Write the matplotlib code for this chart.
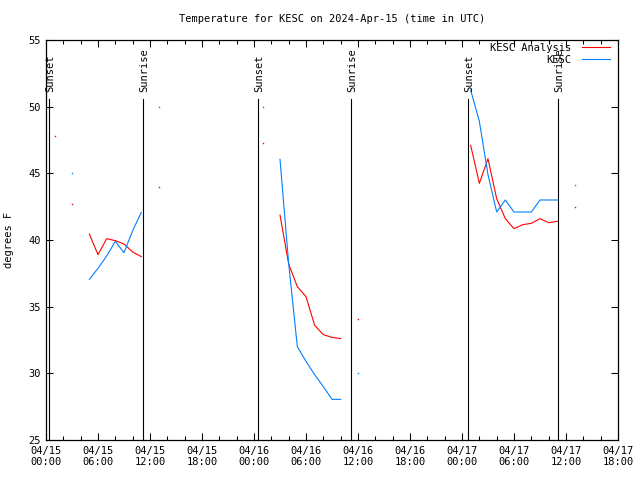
import numpy as np
import matplotlib
matplotlib.use("Agg")
import matplotlib.pyplot as plt

# hours since 2024-04-15 00:00 UTC
analysis_hours = [1, 3, 5, 6, 7, 8, 9, 10, 11, 13, 25,
                  27, 28, 29, 30, 31, 32, 33, 34, 36,
                  49, 50, 51, 52, 53, 54, 55, 56, 57, 58, 59, 61]
analysis_temp = [47.8, 42.7, 40.45, 38.9, 40.1, 39.95, 39.7, 39.1, 38.75, 43.95, 47.3,
                 41.87, 38.2, 36.5, 35.75, 33.6, 32.9, 32.7, 32.6, 34.05,
                 47.1, 44.25, 46.1, 43.1, 41.6, 40.85, 41.15, 41.25, 41.6, 41.3, 41.4, 42.45]

obs_hours = [3, 5, 6, 7, 8, 9, 10, 11, 13, 25,
             27, 28, 29, 30, 31, 32, 33, 34, 36,
             49, 50, 51, 52, 53, 54, 55, 56, 57, 58, 59, 61]
obs_temp = [45.0, 37.05, 37.87, 38.8, 39.9, 39.05, 40.7, 42.07, 50.0, 50.0,
            46.05, 38.25, 32.0, 30.9, 29.9, 29.0, 28.05, 28.05, 30.0,
            51.25, 48.9, 44.9, 42.1, 43.0, 42.1, 42.1, 42.1, 43.0, 43.0, 43.0, 44.1]

sun_hours = [0.33, 11.2, 24.5, 35.2, 48.65, 59.07]
sun_labels = ["Sunset", "Sunrise", "Sunset", "Sunrise", "Sunset", "Sunrise"]

xtick_hours = [0, 6, 12, 18, 24, 30, 36, 42, 48, 54, 60, 66]
xtick_labels = ["04/15\n00:00", "04/15\n06:00", "04/15\n12:00", "04/15\n18:00",
                "04/16\n00:00", "04/16\n06:00", "04/16\n12:00", "04/16\n18:00",
                "04/17\n00:00", "04/17\n06:00", "04/17\n12:00", "04/17\n18:00"]

RED = "#ff0000"
BLUE = "#0080ff"
FONT = "DejaVu Sans Mono"
FS = 7.5


def segments(hours, temps):
    # split the series wherever an hour is missing
    segs = []
    cur_h, cur_t = [hours[0]], [temps[0]]
    for h, t in zip(hours[1:], temps[1:]):
        if h - cur_h[-1] > 1:
            segs.append((cur_h, cur_t))
            cur_h, cur_t = [], []
        cur_h.append(h)
        cur_t.append(t)
    segs.append((cur_h, cur_t))
    return segs


fig = plt.figure(figsize=(6.4, 4.8), dpi=100)
ax = fig.add_axes([46 / 640, 40 / 480, 572 / 640, 400 / 480])

for x, lab in zip(sun_hours, sun_labels):
    ax.plot([x, x], [25, 50.55], color="black", lw=0.8)
    ax.text(x + 0.15, 51.1, lab, rotation=90, ha="center", va="bottom",
            family=FONT, fontsize=FS)

for series, color, label in [((analysis_hours, analysis_temp), RED, "KESC Analysis"),
                             ((obs_hours, obs_temp), BLUE, "KESC")]:
    first = True
    for h, t in segments(*series):
        if len(h) > 1:
            ax.plot(h, t, color=color, lw=0.8,
                    label=label if first else None)
            first = False
        else:
            ax.plot(h, t, "s", color=color, ms=1.0, mew=0)

ax.set_xlim(0, 66)
ax.set_ylim(25, 55)
ax.set_xticks(xtick_hours)
ax.set_xticklabels(xtick_labels)
ax.set_xticks(np.arange(0, 67, 2), minor=True)
ax.set_yticks(np.arange(25, 56, 5))
ax.tick_params(which="both", direction="in", top=True, right=True,
               labelsize=FS, width=0.75)
ax.tick_params(which="major", length=5, pad=4)
ax.tick_params(which="minor", length=3)
for lab in ax.get_xticklabels() + ax.get_yticklabels():
    lab.set_family(FONT)
for sp in ax.spines.values():
    sp.set_linewidth(0.9)

ax.set_ylabel("degrees F", family=FONT, fontsize=FS, labelpad=10)
fig.text(332 / 640, 1 - 19 / 480, "Temperature for KESC on 2024-Apr-15 (time in UTC)",
         ha="center", va="center", family=FONT, fontsize=FS)

leg = ax.legend(loc="upper right", bbox_to_anchor=(564 / 572, 1 - 3 / 400),
                frameon=False, prop={"family": FONT, "size": FS}, markerfirst=False,
                handlelength=2.7, handletextpad=1.0, labelspacing=0.15,
                borderpad=0, borderaxespad=0)

fig.savefig("out.png", dpi=100)
